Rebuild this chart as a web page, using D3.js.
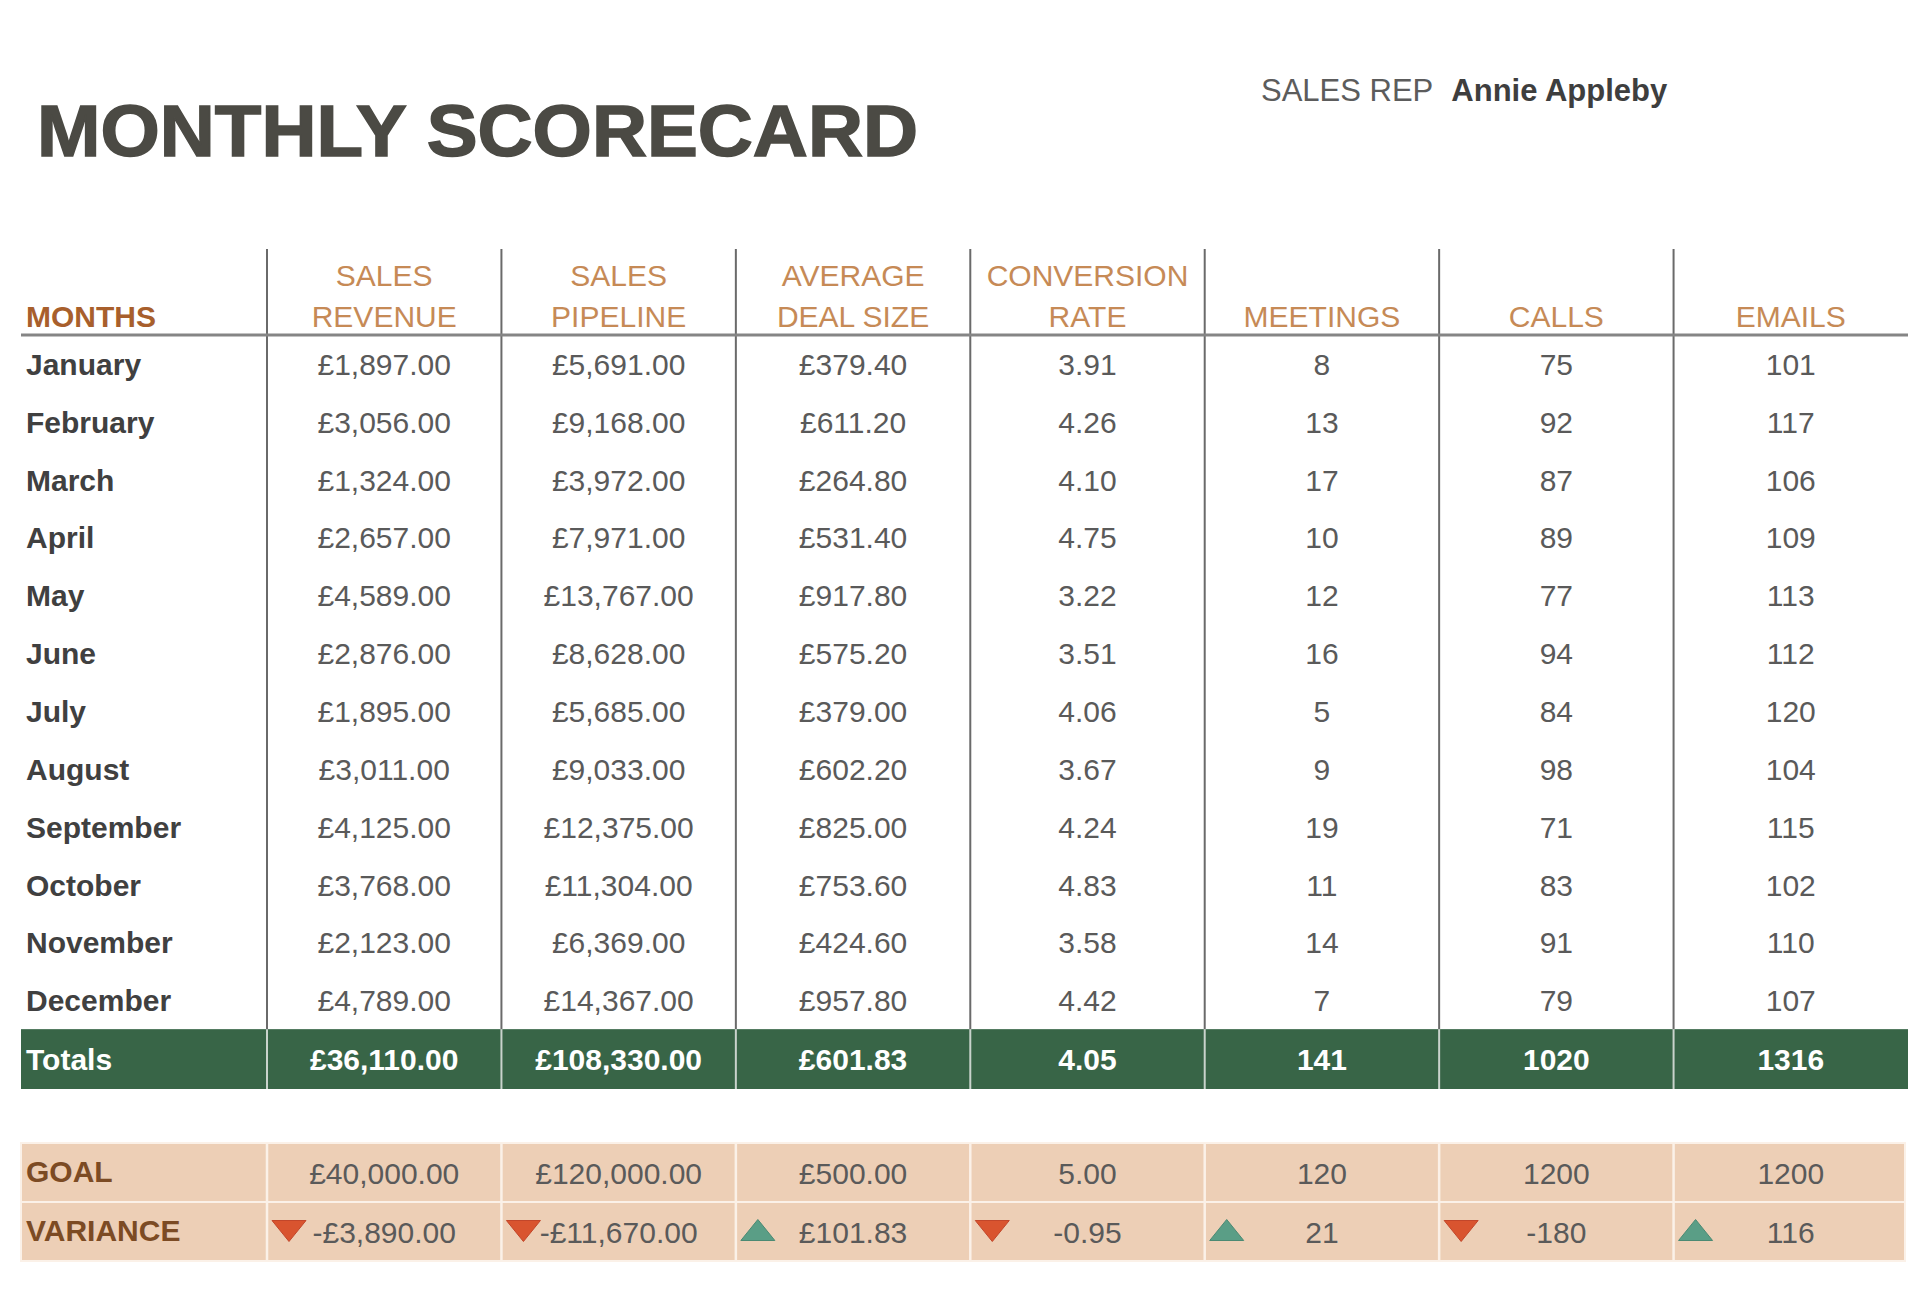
<!DOCTYPE html>
<html>
<head>
<meta charset="utf-8">
<script src="https://cdn.jsdelivr.net/npm/d3@7"></script>
<style>
  body { margin: 0; background: #fff; }
  text { font-family: "Liberation Sans", Arial, sans-serif; }
</style>
</head>
<body>
<div id="chart"></div>
<script>
'use strict';

// table content
var months = ['January', 'February', 'March', 'April', 'May', 'June',
  'July', 'August', 'September', 'October', 'November', 'December'];

var columns = [
  ['SALES', 'REVENUE'],
  ['SALES', 'PIPELINE'],
  ['AVERAGE', 'DEAL SIZE'],
  ['CONVERSION', 'RATE'],
  ['', 'MEETINGS'],
  ['', 'CALLS'],
  ['', 'EMAILS']
];
var kinds = ['cur', 'cur', 'cur', 'dec', 'int', 'int', 'int'];

var revenue = [1897, 3056, 1324, 2657, 4589, 2876, 1895, 3011, 4125, 3768, 2123, 4789];
var pipeline = [5691, 9168, 3972, 7971, 13767, 8628, 5685, 9033, 12375, 11304, 6369, 14367];
var dealSize = [379.40, 611.20, 264.80, 531.40, 917.80, 575.20, 379.00, 602.20, 825.00, 753.60, 424.60, 957.80];
var conversion = [3.91, 4.26, 4.10, 4.75, 3.22, 3.51, 4.06, 3.67, 4.24, 4.83, 3.58, 4.42];
var meetings = [8, 13, 17, 10, 12, 16, 5, 9, 19, 11, 14, 7];
var calls = [75, 92, 87, 89, 77, 94, 84, 98, 71, 83, 91, 79];
var emails = [101, 117, 106, 109, 113, 112, 120, 104, 115, 102, 110, 107];

var totals = [36110.00, 108330.00, 601.83, 4.05, 141, 1020, 1316];
var goals = [40000.00, 120000.00, 500.00, 5.00, 120, 1200, 1200];
var variance = [-3890.00, -11670.00, 101.83, -0.95, 21, -180, 116];

var series = [revenue, pipeline, dealSize, conversion, meetings, calls, emails];

// page size and layout
var W = 1920, H = 1294;
var left = 21, colStart = 267, right = 1908;
var headTop = 249, headLine = 335;

var col = d3.scaleBand()
  .domain(d3.range(columns.length))
  .range([colStart, right]);

var row = d3.scaleBand()
  .domain(months.concat(['Totals']))
  .range([headLine, 1087]);

var lowRow = d3.scaleBand()
  .domain(['GOAL', 'VARIANCE'])
  .range([1143, 1261]);

// pound locale, plain hyphen for negatives
var gb = d3.formatLocale({
  decimal: '.', thousands: ',', grouping: [3],
  currency: ['£', ''], minus: '-'
});
var formats = {
  cur: gb.format('$,.2f'),
  dec: gb.format('.2f'),
  int: gb.format('d')
};
function fmt(v, kind) { return formats[kind](v); }

var svg = d3.select('#chart').append('svg')
  .attr('width', W)
  .attr('height', H);

// title and rep
svg.append('text')
  .attr('x', 37)
  .attr('y', 156)
  .attr('font-size', 72)
  .attr('font-weight', 'bold')
  .attr('fill', '#4b4a44')
  .attr('stroke', '#4b4a44')
  .attr('stroke-width', 1.5)
  .attr('textLength', 881)
  .attr('lengthAdjust', 'spacingAndGlyphs')
  .text('MONTHLY SCORECARD');

var rep = svg.append('text')
  .attr('x', 1261)
  .attr('y', 101)
  .attr('font-size', 31);
rep.append('tspan').attr('fill', '#5c5c5c').text('SALES REP');
rep.append('tspan').attr('dx', 18).attr('fill', '#3e3e3e')
  .attr('font-weight', 'bold').text('Annie Appleby');

// totals band
var totY = row('Totals'), totH = row.bandwidth() + 2;
svg.append('rect')
  .attr('x', left).attr('y', totY)
  .attr('width', right - left).attr('height', totH)
  .attr('fill', '#386547');

// goal / variance bands
svg.selectAll('rect.low')
  .data(lowRow.domain())
  .join('rect')
  .attr('class', 'low')
  .attr('x', left)
  .attr('y', function(d) { return lowRow(d); })
  .attr('width', right - left - 3)
  .attr('height', lowRow.bandwidth())
  .attr('fill', '#edcfb6')
  .attr('stroke', '#fbf1e8')
  .attr('stroke-width', 2);

// column separators
var edges = d3.range(columns.length).map(function(i) { return col(i); });
svg.selectAll('line.sep')
  .data(edges)
  .join('line')
  .attr('class', 'sep')
  .attr('x1', function(d) { return d; }).attr('x2', function(d) { return d; })
  .attr('y1', headTop).attr('y2', totY)
  .attr('stroke', '#6a6a6a').attr('stroke-width', 2);

svg.selectAll('line.sepTot')
  .data(edges)
  .join('line')
  .attr('class', 'sepTot')
  .attr('x1', function(d) { return d; }).attr('x2', function(d) { return d; })
  .attr('y1', totY).attr('y2', totY + totH)
  .attr('stroke', '#c9d3cc').attr('stroke-width', 2);

svg.selectAll('line.sepLow')
  .data(edges)
  .join('line')
  .attr('class', 'sepLow')
  .attr('x1', function(d) { return d; }).attr('x2', function(d) { return d; })
  .attr('y1', lowRow('GOAL')).attr('y2', lowRow('VARIANCE') + lowRow.bandwidth())
  .attr('stroke', '#fbf1e8').attr('stroke-width', 2.5);

// header rule
svg.append('line')
  .attr('x1', left).attr('x2', right)
  .attr('y1', headLine).attr('y2', headLine)
  .attr('stroke', '#858585').attr('stroke-width', 3);

// header labels
svg.append('text')
  .attr('x', 26).attr('y', 327)
  .attr('font-size', 30).attr('font-weight', 'bold')
  .attr('fill', '#a85f2c')
  .text('MONTHS');

var heads = svg.selectAll('g.head')
  .data(columns)
  .join('g')
  .attr('class', 'head')
  .attr('transform', function(d, i) { return 'translate(' + (col(i) + col.bandwidth() / 2) + ',0)'; });
heads.append('text')
  .attr('y', 286).attr('text-anchor', 'middle')
  .attr('font-size', 30).attr('fill', '#c68a56')
  .text(function(d) { return d[0]; });
heads.append('text')
  .attr('y', 327).attr('text-anchor', 'middle')
  .attr('font-size', 30).attr('fill', '#c68a56')
  .text(function(d) { return d[1]; });

function baseline(scale, key) { return scale(key) + scale.bandwidth() / 2 + 11; }

// month rows
var rows = svg.selectAll('g.month')
  .data(months)
  .join('g')
  .attr('class', 'month')
  .attr('transform', function(d) { return 'translate(0,' + baseline(row, d) + ')'; });
rows.append('text')
  .attr('x', 26).attr('font-size', 30).attr('font-weight', 'bold')
  .attr('fill', '#404040')
  .text(function(d) { return d; });
rows.selectAll('text.val')
  .data(function(d, r) { return series.map(function(s, i) { return { i: i, v: s[r] }; }); })
  .join('text')
  .attr('class', 'val')
  .attr('x', function(d) { return col(d.i) + col.bandwidth() / 2; })
  .attr('text-anchor', 'middle').attr('font-size', 30)
  .attr('fill', '#5a5a5a')
  .text(function(d) { return fmt(d.v, kinds[d.i]); });

// totals row
var ty = baseline(row, 'Totals') + 1;
svg.append('text')
  .attr('x', 26).attr('y', ty)
  .attr('font-size', 30).attr('font-weight', 'bold').attr('fill', '#fff')
  .text('Totals');
svg.selectAll('text.tot')
  .data(totals)
  .join('text')
  .attr('class', 'tot')
  .attr('x', function(d, i) { return col(i) + col.bandwidth() / 2; })
  .attr('y', ty)
  .attr('text-anchor', 'middle').attr('font-size', 30).attr('font-weight', 'bold')
  .attr('fill', '#fff')
  .text(function(d, i) { return fmt(d, kinds[i]); });

// goal and variance rows
svg.selectAll('text.lowLabel')
  .data(lowRow.domain())
  .join('text')
  .attr('class', 'lowLabel')
  .attr('x', 26).attr('y', function(d) { return baseline(lowRow, d) - 2; })
  .attr('font-size', 30).attr('font-weight', 'bold').attr('fill', '#7c4b24')
  .text(function(d) { return d; });

svg.selectAll('text.goal')
  .data(goals)
  .join('text')
  .attr('class', 'goal')
  .attr('x', function(d, i) { return col(i) + col.bandwidth() / 2; })
  .attr('y', baseline(lowRow, 'GOAL'))
  .attr('text-anchor', 'middle').attr('font-size', 30).attr('fill', '#5a5a5a')
  .text(function(d, i) { return fmt(d, kinds[i]); });

svg.selectAll('text.var')
  .data(variance)
  .join('text')
  .attr('class', 'var')
  .attr('x', function(d, i) { return col(i) + col.bandwidth() / 2; })
  .attr('y', baseline(lowRow, 'VARIANCE'))
  .attr('text-anchor', 'middle').attr('font-size', 30).attr('fill', '#5a5a5a')
  .text(function(d, i) { return fmt(d, kinds[i]); });

// up / down markers
var vMid = lowRow('VARIANCE') + lowRow.bandwidth() / 2 - 1;
svg.selectAll('path.mark')
  .data(variance)
  .join('path')
  .attr('class', 'mark')
  .attr('transform', function(d, i) { return 'translate(' + (col(i) + 22) + ',' + vMid + ')'; })
  .attr('d', function(d) {
    return d < 0 ? 'M-17,-10L17,-10L0,11Z' : 'M-17,10L17,10L0,-11Z';
  })
  .attr('fill', function(d) { return d < 0 ? '#d9542f' : '#5a9e86'; })
  .attr('stroke', function(d) { return d < 0 ? '#c2462a' : '#4b8a73'; })
  .attr('stroke-width', 1);
</script>
</body>
</html>
